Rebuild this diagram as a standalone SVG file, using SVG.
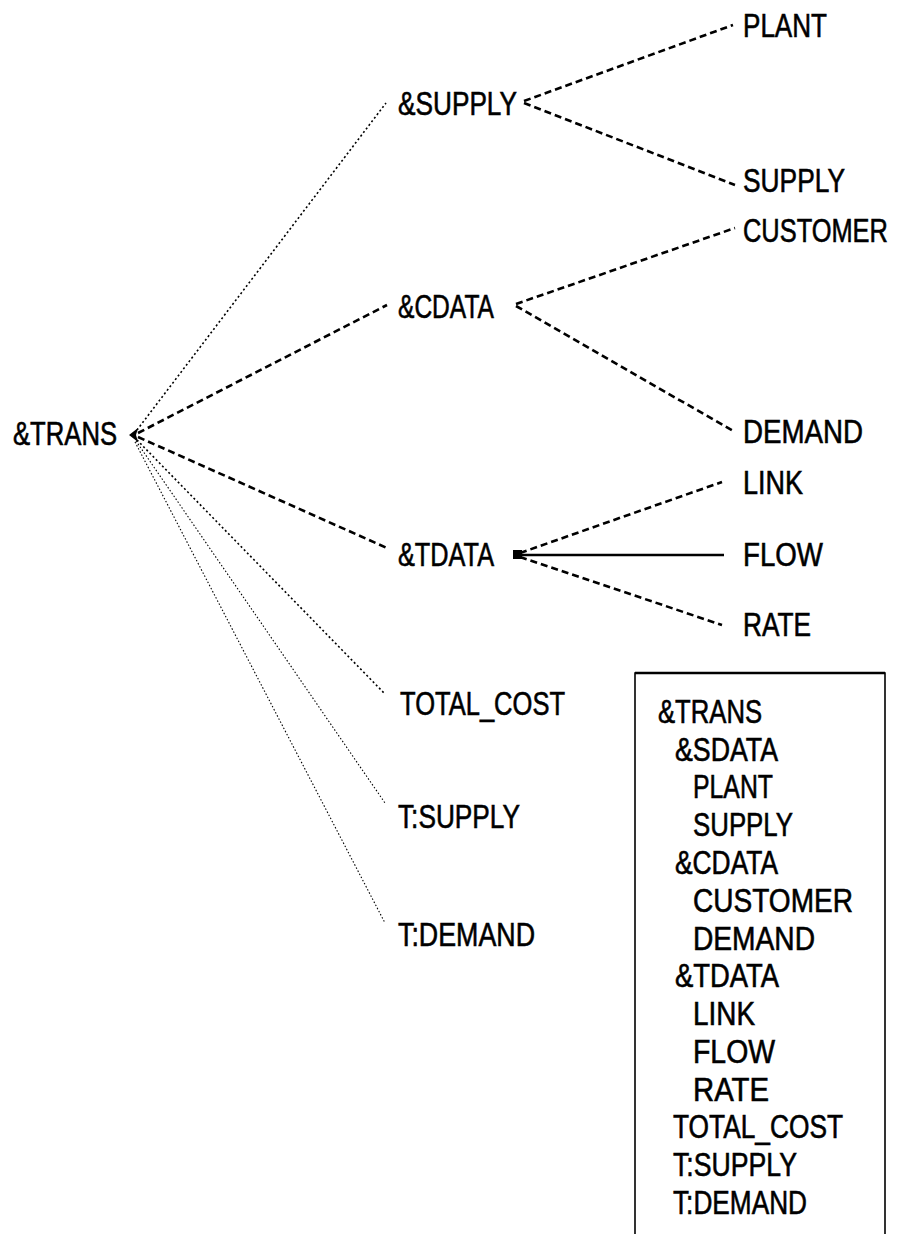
<svg xmlns="http://www.w3.org/2000/svg" width="905" height="1234" viewBox="0 0 905 1234">
<style>
text{font-family:"Liberation Sans","DejaVu Sans",sans-serif;font-size:33px;fill:#000;stroke:#000;stroke-width:0.6}
.dash{stroke:#000;stroke-width:2.6;stroke-dasharray:7 4;fill:none}
.dot{stroke:#000;stroke-width:1.6;stroke-dasharray:2 2.5;fill:none}
.fine{stroke:#000;stroke-width:1.1;stroke-dasharray:1.5 2;fill:none}
.solid{stroke:#000;stroke-width:2.6;fill:none}
</style>
<rect width="905" height="1234" fill="#fff"/>
<g id="connectors">
  <line class="dot" x1="137" y1="430" x2="386" y2="103"/>
  <line class="dash" x1="138" y1="433" x2="387" y2="305"/>
  <line class="dash" x1="138" y1="437" x2="387" y2="548"/>
  <line class="dot" x1="137" y1="440" x2="385" y2="694"/>
  <line class="fine" x1="136" y1="441" x2="385" y2="803"/>
  <line class="fine" x1="135" y1="442" x2="385" y2="923"/>
  <polygon points="129,435 138,428 136,435 138,442" fill="#000"/>
  <line class="dash" x1="524" y1="101" x2="733" y2="25"/>
  <line class="dash" x1="524" y1="103" x2="735" y2="185"/>
  <line class="dash" x1="516" y1="304" x2="735" y2="228"/>
  <line class="dash" x1="516" y1="306" x2="735" y2="432"/>
  <line class="dash" x1="520" y1="553" x2="722" y2="482"/>
  <line class="solid" x1="514" y1="555" x2="724" y2="555"/>
  <line class="dash" x1="520" y1="557" x2="722" y2="625"/>
  <rect x="513" y="550" width="9" height="9" fill="#000"/>
</g>
<g id="n-trans"><text x="13" y="445" textLength="104" lengthAdjust="spacingAndGlyphs">&amp;TRANS</text></g>
<g id="n-supply"><text x="398" y="115" textLength="119" lengthAdjust="spacingAndGlyphs">&amp;SUPPLY</text></g>
<g id="n-plant"><text x="743" y="37" textLength="84" lengthAdjust="spacingAndGlyphs">PLANT</text></g>
<g id="n-supply2"><text x="743" y="192" textLength="102" lengthAdjust="spacingAndGlyphs">SUPPLY</text></g>
<g id="n-cdata"><text x="398" y="318" textLength="96" lengthAdjust="spacingAndGlyphs">&amp;CDATA</text></g>
<g id="n-customer"><text transform="translate(743,242) scale(0.77,1)" x="0" y="0">CUSTOMER</text></g>
<g id="n-demand"><text x="743" y="443" textLength="120" lengthAdjust="spacingAndGlyphs">DEMAND</text></g>
<g id="n-tdata"><text x="398" y="566" textLength="96" lengthAdjust="spacingAndGlyphs">&amp;TDATA</text></g>
<g id="n-link"><text x="743" y="494" textLength="60" lengthAdjust="spacingAndGlyphs">LINK</text></g>
<g id="n-flow"><text x="743" y="566" textLength="80" lengthAdjust="spacingAndGlyphs">FLOW</text></g>
<g id="n-rate"><text x="743" y="636" textLength="68" lengthAdjust="spacingAndGlyphs">RATE</text></g>
<g id="n-totalcost"><text x="400" y="715" textLength="165" lengthAdjust="spacingAndGlyphs">TOTAL_COST</text></g>
<g id="n-tsupply"><text x="398" y="828" textLength="122" lengthAdjust="spacingAndGlyphs">T:SUPPLY</text></g>
<g id="n-tdemand"><text x="398" y="946" textLength="137" lengthAdjust="spacingAndGlyphs">T:DEMAND</text></g>
<g id="legend">
  <path d="M635,1240 V673 H885 V1240" fill="none" stroke="#000" stroke-width="1.6"/>
  <line x1="635" y1="673" x2="885" y2="673" stroke="#000" stroke-width="2.4"/>
  <text x="658" y="723" textLength="104" lengthAdjust="spacingAndGlyphs">&amp;TRANS</text>
  <text x="675" y="761" textLength="103" lengthAdjust="spacingAndGlyphs">&amp;SDATA</text>
  <text x="693" y="798" textLength="80" lengthAdjust="spacingAndGlyphs">PLANT</text>
  <text x="693" y="836" textLength="100" lengthAdjust="spacingAndGlyphs">SUPPLY</text>
  <text x="675" y="874" textLength="103" lengthAdjust="spacingAndGlyphs">&amp;CDATA</text>
  <text x="693" y="912" textLength="160" lengthAdjust="spacingAndGlyphs">CUSTOMER</text>
  <text x="693" y="950" textLength="122" lengthAdjust="spacingAndGlyphs">DEMAND</text>
  <text x="675" y="987" textLength="104" lengthAdjust="spacingAndGlyphs">&amp;TDATA</text>
  <text x="693" y="1025" textLength="62" lengthAdjust="spacingAndGlyphs">LINK</text>
  <text x="693" y="1063" textLength="82" lengthAdjust="spacingAndGlyphs">FLOW</text>
  <text x="693" y="1101" textLength="76" lengthAdjust="spacingAndGlyphs">RATE</text>
  <text x="673" y="1138" textLength="170" lengthAdjust="spacingAndGlyphs">TOTAL_COST</text>
  <text x="673" y="1176" textLength="124" lengthAdjust="spacingAndGlyphs">T:SUPPLY</text>
  <text x="673" y="1214" textLength="134" lengthAdjust="spacingAndGlyphs">T:DEMAND</text>
</g>
</svg>
